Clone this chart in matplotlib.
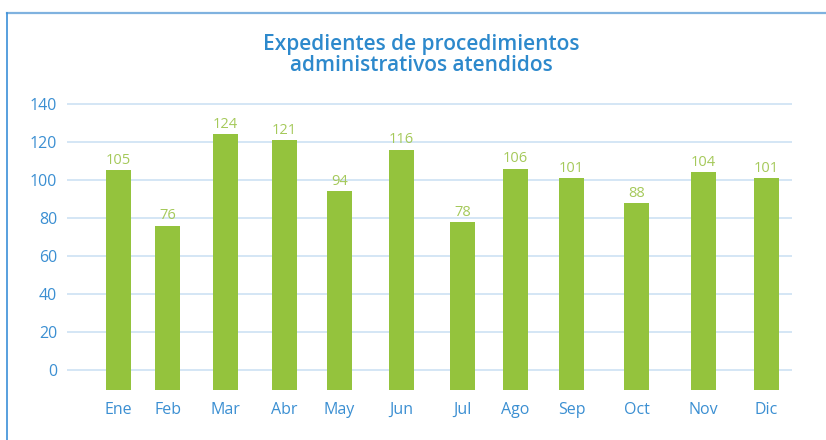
import numpy as np
import matplotlib.pyplot as plt
from matplotlib.lines import Line2D

# Datos mensuales
meses = ["Ene", "Feb", "Mar", "Abr", "May", "Jun", "Jul", "Ago", "Sep", "Oct", "Nov", "Dic"]
expedientes = [105, 76, 124, 121, 94, 116, 78, 106, 101, 88, 104, 101]
yticks = [0, 20, 40, 60, 80, 100, 120, 140]

# Posicion horizontal de cada barra (en pixeles de la figura)
xpos = [118.5, 167.5, 225.5, 284.5, 339.5, 401.5, 462.5, 515.5, 571.5, 636.5, 703.5, 766.5]

azul = "#3b8fd2"
verde = "#94c33d"
verde_txt = "#a5c95a"
grid_c = "#cde2f3"
base = -10.5  # las barras arrancan por debajo del cero

plt.rcParams['font.family'] = ['Open Sans', 'DejaVu Sans']

fig = plt.figure(figsize=(8.26, 4.4), dpi=100)
ax = fig.add_axes([67 / 826, (440 - 395) / 440, (792 - 67) / 826, (395 - 100) / 440])
ax.set_xlim(67, 792)
ax.set_ylim(-13.16, 142.1)

for t in yticks:
    ax.axhline(t, color=grid_c, lw=1.2, zorder=0)

vals = np.array(expedientes)
ax.bar(xpos, vals - base, bottom=base, width=25, color=verde, zorder=2)
for x, v in zip(xpos, vals):
    ax.text(x, v + 1.2, str(v), ha="center", va="bottom", color=verde_txt, fontsize=10.5)

ax.set_xticks(xpos, meses)
ax.set_yticks(yticks)
ax.tick_params(length=0, colors=azul, labelsize=11.5)
ax.tick_params(axis="x", pad=5)
ax.tick_params(axis="y", pad=7)
for s in ax.spines.values():
    s.set_visible(False)

fig.text(421 / 826, 1 - 55 / 440, "Expedientes de procedimientos\nadministrativos atendidos",
         ha="center", va="center", color="#2d89cc", fontsize=15, fontweight="semibold",
         linespacing=1.0)

# Marco superior e izquierdo
fig.add_artist(Line2D([7 / 826, 1], [1 - 13 / 440] * 2, color="#7fb2df", lw=1.6))
fig.add_artist(Line2D([7 / 826] * 2, [0, 1 - 13 / 440], color="#3b8fd8", lw=1.2))

fig.savefig("out.png", dpi=100)
